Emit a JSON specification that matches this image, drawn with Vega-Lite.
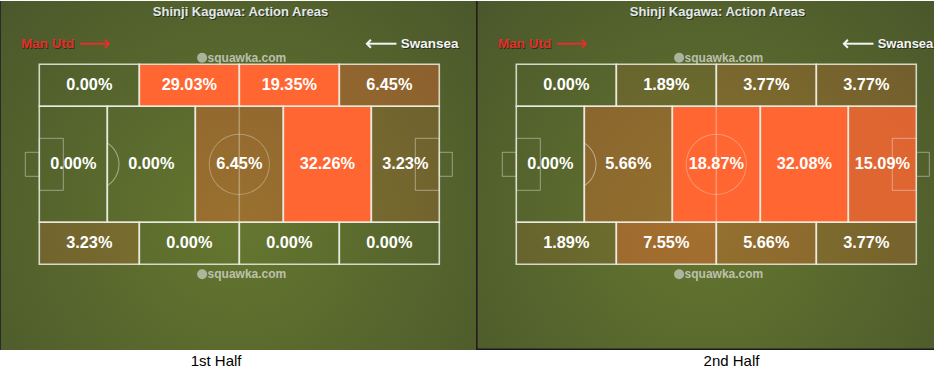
{
  "$schema": "https://vega.github.io/schema/vega-lite/v6.json",
  "padding": 0,
  "background": "white",
  "spacing": 0,
  "bounds": "flush",
  "config": {"view": {"stroke": null}, "text": {"font": "Liberation Sans"}},
  "datasets": {
    "zones": [
      {"half": 1, "x0": 0, "x1": 25, "y0": 79, "y1": 100, "cx": 12.5, "cy": 89.5, "v": 0.0},
      {"half": 1, "x0": 25, "x1": 50, "y0": 79, "y1": 100, "cx": 37.5, "cy": 89.5, "v": 0.2903},
      {"half": 1, "x0": 50, "x1": 75, "y0": 79, "y1": 100, "cx": 62.5, "cy": 89.5, "v": 0.1935},
      {"half": 1, "x0": 75, "x1": 100, "y0": 79, "y1": 100, "cx": 87.5, "cy": 89.5, "v": 0.0645},
      {"half": 1, "x0": 0, "x1": 17, "y0": 21, "y1": 79, "cx": 8.5, "cy": 50, "v": 0.0},
      {"half": 1, "x0": 17, "x1": 39, "y0": 21, "y1": 79, "cx": 28, "cy": 50, "v": 0.0},
      {"half": 1, "x0": 39, "x1": 61, "y0": 21, "y1": 79, "cx": 50, "cy": 50, "v": 0.0645},
      {"half": 1, "x0": 61, "x1": 83, "y0": 21, "y1": 79, "cx": 72, "cy": 50, "v": 0.3226},
      {"half": 1, "x0": 83, "x1": 100, "y0": 21, "y1": 79, "cx": 91.5, "cy": 50, "v": 0.0323},
      {"half": 1, "x0": 0, "x1": 25, "y0": 0, "y1": 21, "cx": 12.5, "cy": 10.5, "v": 0.0323},
      {"half": 1, "x0": 25, "x1": 50, "y0": 0, "y1": 21, "cx": 37.5, "cy": 10.5, "v": 0.0},
      {"half": 1, "x0": 50, "x1": 75, "y0": 0, "y1": 21, "cx": 62.5, "cy": 10.5, "v": 0.0},
      {"half": 1, "x0": 75, "x1": 100, "y0": 0, "y1": 21, "cx": 87.5, "cy": 10.5, "v": 0.0},
      {"half": 2, "x0": 0, "x1": 25, "y0": 79, "y1": 100, "cx": 12.5, "cy": 89.5, "v": 0.0},
      {"half": 2, "x0": 25, "x1": 50, "y0": 79, "y1": 100, "cx": 37.5, "cy": 89.5, "v": 0.0189},
      {"half": 2, "x0": 50, "x1": 75, "y0": 79, "y1": 100, "cx": 62.5, "cy": 89.5, "v": 0.0377},
      {"half": 2, "x0": 75, "x1": 100, "y0": 79, "y1": 100, "cx": 87.5, "cy": 89.5, "v": 0.0377},
      {"half": 2, "x0": 0, "x1": 17, "y0": 21, "y1": 79, "cx": 8.5, "cy": 50, "v": 0.0},
      {"half": 2, "x0": 17, "x1": 39, "y0": 21, "y1": 79, "cx": 28, "cy": 50, "v": 0.0566},
      {"half": 2, "x0": 39, "x1": 61, "y0": 21, "y1": 79, "cx": 50, "cy": 50, "v": 0.1887},
      {"half": 2, "x0": 61, "x1": 83, "y0": 21, "y1": 79, "cx": 72, "cy": 50, "v": 0.3208},
      {"half": 2, "x0": 83, "x1": 100, "y0": 21, "y1": 79, "cx": 91.5, "cy": 50, "v": 0.1509},
      {"half": 2, "x0": 0, "x1": 25, "y0": 0, "y1": 21, "cx": 12.5, "cy": 10.5, "v": 0.0189},
      {"half": 2, "x0": 25, "x1": 50, "y0": 0, "y1": 21, "cx": 37.5, "cy": 10.5, "v": 0.0755},
      {"half": 2, "x0": 50, "x1": 75, "y0": 0, "y1": 21, "cx": 62.5, "cy": 10.5, "v": 0.0566},
      {"half": 2, "x0": 75, "x1": 100, "y0": 0, "y1": 21, "cx": 87.5, "cy": 10.5, "v": 0.0377}
    ],
    "boxes": [
      {"x0": 0, "x1": 6, "y0": 37, "y1": 63},
      {"x0": -3.5, "x1": 0, "y0": 44, "y1": 56},
      {"x0": 94, "x1": 100, "y0": 37, "y1": 63},
      {"x0": 100, "x1": 103.25, "y0": 44, "y1": 56}
    ]
  },
  "hconcat": [
    {
      "width": 476,
      "height": 349,
      "layer": [
        {
          "data": {"values": [{}]},
          "mark": {"type": "rect", "fill": {"gradient": "radial", "x1": 0.5, "y1": 0.6, "x2": 0.5, "y2": 0.6, "r1": 0, "r2": 0.78, "stops": [{"offset": 0, "color": "#65772f"}, {"offset": 1, "color": "#47532b"}]}},
          "encoding": {
            "x": {"datum": -9.825, "type": "quantitative", "scale": {"domain": [-9.825, 109.175], "nice": false, "zero": false}, "axis": null},
            "x2": {"datum": 109.175},
            "y": {"datum": -42.85, "type": "quantitative", "scale": {"domain": [-42.85, 131.65], "nice": false, "zero": false}, "axis": null},
            "y2": {"datum": 131.65}
          }
        },
        {
          "data": {"name": "zones"},
          "transform": [{"filter": "datum.half == 1"}],
          "mark": {"type": "rect", "fill": "#ff6632"},
          "encoding": {
            "x": {"field": "x0", "type": "quantitative"}, "x2": {"field": "x1"},
            "y": {"field": "y0", "type": "quantitative"}, "y2": {"field": "y1"},
            "opacity": {"field": "v", "type": "quantitative", "scale": {"domain": [0, 0.186], "range": [0, 1], "clamp": true}, "legend": null}
          }
        },
        {
          "data": {"name": "boxes"},
          "mark": {"type": "rect", "fill": "white", "fillOpacity": 0, "stroke": "#f0f0e8", "strokeOpacity": 0.45, "strokeWidth": 1},
          "encoding": {
            "x": {"field": "x0", "type": "quantitative"}, "x2": {"field": "x1"},
            "y": {"field": "y0", "type": "quantitative"}, "y2": {"field": "y1"}
          }
        },
        {
          "data": {"values": [{}]},
          "mark": {"type": "rule", "color": "#f0f0e8", "opacity": 0.35, "strokeWidth": 1.5},
          "encoding": {"x": {"datum": 50, "type": "quantitative"}, "y": {"datum": 21, "type": "quantitative"}, "y2": {"datum": 79}}
        },
        {
          "data": {"values": [{}]},
          "mark": {"type": "arc", "radius": 30.6, "radius2": 29.6, "theta": 0, "theta2": 6.2832, "fill": "#f0f0e8", "opacity": 0.35},
          "encoding": {"x": {"datum": 50, "type": "quantitative"}, "y": {"datum": 50, "type": "quantitative"}}
        },
        {
          "data": {"values": [{}]},
          "mark": {"type": "arc", "radius": 25.8, "radius2": 24.8, "theta": 0.553, "theta2": 2.589, "fill": "#f0f0e8", "opacity": 0.5},
          "encoding": {"x": {"datum": 13.6, "type": "quantitative"}, "y": {"datum": 50, "type": "quantitative"}}
        },
        {
          "data": {"name": "zones"},
          "transform": [{"filter": "datum.half == 1"}],
          "mark": {"type": "rect", "fill": "white", "fillOpacity": 0, "stroke": "#ecece2", "strokeOpacity": 0.85, "strokeWidth": 1.6},
          "encoding": {
            "x": {"field": "x0", "type": "quantitative"}, "x2": {"field": "x1"},
            "y": {"field": "y0", "type": "quantitative"}, "y2": {"field": "y1"}
          }
        },
        {
          "data": {"values": [{"wy": 103.3}, {"wy": -5}]},
          "mark": {"type": "point", "shape": "circle", "filled": true, "size": 100, "color": "#c9ccc0", "opacity": 0.75},
          "encoding": {"x": {"datum": 40.7, "type": "quantitative"}, "y": {"field": "wy", "type": "quantitative"}}
        },
        {
          "data": {"values": [{"wy": 103.3}, {"wy": -5}]},
          "mark": {"type": "text", "text": "squawka.com", "font": "Liberation Sans", "fontWeight": "bold", "fontSize": 12, "color": "#d4d6cc", "opacity": 0.8},
          "encoding": {"x": {"datum": 51.9, "type": "quantitative"}, "y": {"field": "wy", "type": "quantitative"}}
        },
        {
          "data": {"values": [{}]},
          "mark": {"type": "text", "text": "Shinji Kagawa: Action Areas", "fontWeight": "bold", "fontSize": 13, "color": "#1a1e12", "dx": 1, "dy": 1, "opacity": 0.7},
          "encoding": {"x": {"datum": 50.3, "type": "quantitative"}, "y": {"datum": 126.4, "type": "quantitative"}}
        },
        {
          "data": {"values": [{}]},
          "mark": {"type": "text", "text": "Shinji Kagawa: Action Areas", "fontWeight": "bold", "fontSize": 13, "color": "#e2e7ea"},
          "encoding": {"x": {"datum": 50.3, "type": "quantitative"}, "y": {"datum": 126.4, "type": "quantitative"}}
        },
        {
          "data": {"values": [{}]},
          "mark": {"type": "text", "text": "Man Utd", "fontWeight": "bold", "fontSize": 13.5, "color": "#1a1e12", "dx": 1, "dy": 1, "opacity": 0.7},
          "encoding": {"x": {"datum": 2.1, "type": "quantitative"}, "y": {"datum": 110.3, "type": "quantitative"}}
        },
        {
          "data": {"values": [{}]},
          "mark": {"type": "text", "text": "Man Utd", "fontWeight": "bold", "fontSize": 13.5, "color": "#e2312a"},
          "encoding": {"x": {"datum": 2.1, "type": "quantitative"}, "y": {"datum": 110.3, "type": "quantitative"}}
        },
        {
          "data": {"values": [{}]},
          "mark": {"type": "rule", "color": "#e2312a", "strokeWidth": 2},
          "encoding": {"x": {"datum": 10.2, "type": "quantitative"}, "x2": {"datum": 17.3}, "y": {"datum": 110.3, "type": "quantitative"}}
        },
        {
          "data": {"values": [{}]},
          "mark": {"type": "point", "shape": "M-1,-1L0,0L-1,1", "filled": false, "size": 64, "stroke": "#e2312a", "strokeWidth": 2, "opacity": 1},
          "encoding": {"x": {"datum": 17.4, "type": "quantitative"}, "y": {"datum": 110.3, "type": "quantitative"}}
        },
        {
          "data": {"values": [{}]},
          "mark": {"type": "text", "text": "Swansea", "fontWeight": "bold", "fontSize": 13.5, "color": "#1a1e12", "dx": 1, "dy": 1, "opacity": 0.7},
          "encoding": {"x": {"datum": 97.6, "type": "quantitative"}, "y": {"datum": 110.3, "type": "quantitative"}}
        },
        {
          "data": {"values": [{}]},
          "mark": {"type": "text", "text": "Swansea", "fontWeight": "bold", "fontSize": 13.5, "color": "#f2f4f4"},
          "encoding": {"x": {"datum": 97.6, "type": "quantitative"}, "y": {"datum": 110.3, "type": "quantitative"}}
        },
        {
          "data": {"values": [{}]},
          "mark": {"type": "rule", "color": "#f2f4f4", "strokeWidth": 2},
          "encoding": {"x": {"datum": 82, "type": "quantitative"}, "x2": {"datum": 89.3}, "y": {"datum": 110.3, "type": "quantitative"}}
        },
        {
          "data": {"values": [{}]},
          "mark": {"type": "point", "shape": "M1,-1L0,0L1,1", "filled": false, "size": 64, "stroke": "#f2f4f4", "strokeWidth": 2, "opacity": 1},
          "encoding": {"x": {"datum": 81.9, "type": "quantitative"}, "y": {"datum": 110.3, "type": "quantitative"}}
        },
        {
          "data": {"name": "zones"},
          "transform": [{"filter": "datum.half == 1"}],
          "mark": {"type": "text", "fontWeight": "bold", "fontSize": 16.3, "color": "#ffffff"},
          "encoding": {
            "x": {"field": "cx", "type": "quantitative"},
            "y": {"field": "cy", "type": "quantitative"},
            "text": {"field": "v", "type": "quantitative", "format": ".2%"}
          }
        },
        {
          "data": {"values": [{}]},
          "mark": {"type": "text", "text": "1st Half", "fontSize": 15, "color": "#000000"},
          "encoding": {"x": {"datum": 44.2, "type": "quantitative"}, "y": {"datum": -48.4, "type": "quantitative"}}
        },
        {
          "data": {"values": [{}]},
          "mark": {"type": "rule", "color": "#2a2a2a", "strokeWidth": 1},
          "encoding": {"x": {"datum": -9.7, "type": "quantitative"}, "y": {"datum": -42.85, "type": "quantitative"}, "y2": {"datum": 131.65}}
        }
      ]
    },
    {
      "width": 458,
      "height": 349,
      "layer": [
        {
          "data": {"values": [{}]},
          "mark": {"type": "rect", "fill": {"gradient": "radial", "x1": 0.5, "y1": 0.6, "x2": 0.5, "y2": 0.6, "r1": 0, "r2": 0.78, "stops": [{"offset": 0, "color": "#65772f"}, {"offset": 1, "color": "#47532b"}]}},
          "encoding": {
            "x": {"datum": -10.075, "type": "quantitative", "scale": {"domain": [-10.075, 104.425], "nice": false, "zero": false}, "axis": null},
            "x2": {"datum": 104.425},
            "y": {"datum": -42.85, "type": "quantitative", "scale": {"domain": [-42.85, 131.65], "nice": false, "zero": false}, "axis": null},
            "y2": {"datum": 131.65}
          }
        },
        {
          "data": {"name": "zones"},
          "transform": [{"filter": "datum.half == 2"}],
          "mark": {"type": "rect", "fill": "#ff6632"},
          "encoding": {
            "x": {"field": "x0", "type": "quantitative"}, "x2": {"field": "x1"},
            "y": {"field": "y0", "type": "quantitative"}, "y2": {"field": "y1"},
            "opacity": {"field": "v", "type": "quantitative", "scale": {"domain": [0, 0.186], "range": [0, 1], "clamp": true}, "legend": null}
          }
        },
        {
          "data": {"name": "boxes"},
          "mark": {"type": "rect", "fill": "white", "fillOpacity": 0, "stroke": "#f0f0e8", "strokeOpacity": 0.45, "strokeWidth": 1},
          "encoding": {
            "x": {"field": "x0", "type": "quantitative"}, "x2": {"field": "x1"},
            "y": {"field": "y0", "type": "quantitative"}, "y2": {"field": "y1"}
          }
        },
        {
          "data": {"values": [{}]},
          "mark": {"type": "rule", "color": "#f0f0e8", "opacity": 0.35, "strokeWidth": 1.5},
          "encoding": {"x": {"datum": 50, "type": "quantitative"}, "y": {"datum": 21, "type": "quantitative"}, "y2": {"datum": 79}}
        },
        {
          "data": {"values": [{}]},
          "mark": {"type": "arc", "radius": 30.6, "radius2": 29.6, "theta": 0, "theta2": 6.2832, "fill": "#f0f0e8", "opacity": 0.35},
          "encoding": {"x": {"datum": 50, "type": "quantitative"}, "y": {"datum": 50, "type": "quantitative"}}
        },
        {
          "data": {"values": [{}]},
          "mark": {"type": "arc", "radius": 25.8, "radius2": 24.8, "theta": 0.553, "theta2": 2.589, "fill": "#f0f0e8", "opacity": 0.5},
          "encoding": {"x": {"datum": 13.6, "type": "quantitative"}, "y": {"datum": 50, "type": "quantitative"}}
        },
        {
          "data": {"name": "zones"},
          "transform": [{"filter": "datum.half == 2"}],
          "mark": {"type": "rect", "fill": "white", "fillOpacity": 0, "stroke": "#ecece2", "strokeOpacity": 0.85, "strokeWidth": 1.6},
          "encoding": {
            "x": {"field": "x0", "type": "quantitative"}, "x2": {"field": "x1"},
            "y": {"field": "y0", "type": "quantitative"}, "y2": {"field": "y1"}
          }
        },
        {
          "data": {"values": [{"wy": 103.3}, {"wy": -5}]},
          "mark": {"type": "point", "shape": "circle", "filled": true, "size": 100, "color": "#c9ccc0", "opacity": 0.75},
          "encoding": {"x": {"datum": 40.7, "type": "quantitative"}, "y": {"field": "wy", "type": "quantitative"}}
        },
        {
          "data": {"values": [{"wy": 103.3}, {"wy": -5}]},
          "mark": {"type": "text", "text": "squawka.com", "font": "Liberation Sans", "fontWeight": "bold", "fontSize": 12, "color": "#d4d6cc", "opacity": 0.8},
          "encoding": {"x": {"datum": 51.9, "type": "quantitative"}, "y": {"field": "wy", "type": "quantitative"}}
        },
        {
          "data": {"values": [{}]},
          "mark": {"type": "text", "text": "Shinji Kagawa: Action Areas", "fontWeight": "bold", "fontSize": 13, "color": "#1a1e12", "dx": 1, "dy": 1, "opacity": 0.7},
          "encoding": {"x": {"datum": 50.3, "type": "quantitative"}, "y": {"datum": 126.4, "type": "quantitative"}}
        },
        {
          "data": {"values": [{}]},
          "mark": {"type": "text", "text": "Shinji Kagawa: Action Areas", "fontWeight": "bold", "fontSize": 13, "color": "#e2e7ea"},
          "encoding": {"x": {"datum": 50.3, "type": "quantitative"}, "y": {"datum": 126.4, "type": "quantitative"}}
        },
        {
          "data": {"values": [{}]},
          "mark": {"type": "text", "text": "Man Utd", "fontWeight": "bold", "fontSize": 13.5, "color": "#1a1e12", "dx": 1, "dy": 1, "opacity": 0.7},
          "encoding": {"x": {"datum": 2.1, "type": "quantitative"}, "y": {"datum": 110.3, "type": "quantitative"}}
        },
        {
          "data": {"values": [{}]},
          "mark": {"type": "text", "text": "Man Utd", "fontWeight": "bold", "fontSize": 13.5, "color": "#e2312a"},
          "encoding": {"x": {"datum": 2.1, "type": "quantitative"}, "y": {"datum": 110.3, "type": "quantitative"}}
        },
        {
          "data": {"values": [{}]},
          "mark": {"type": "rule", "color": "#e2312a", "strokeWidth": 2},
          "encoding": {"x": {"datum": 10.2, "type": "quantitative"}, "x2": {"datum": 17.3}, "y": {"datum": 110.3, "type": "quantitative"}}
        },
        {
          "data": {"values": [{}]},
          "mark": {"type": "point", "shape": "M-1,-1L0,0L-1,1", "filled": false, "size": 64, "stroke": "#e2312a", "strokeWidth": 2, "opacity": 1},
          "encoding": {"x": {"datum": 17.4, "type": "quantitative"}, "y": {"datum": 110.3, "type": "quantitative"}}
        },
        {
          "data": {"values": [{}]},
          "mark": {"type": "text", "text": "Swansea", "fontWeight": "bold", "fontSize": 13, "color": "#1a1e12", "dx": 1, "dy": 1, "opacity": 0.7},
          "encoding": {"x": {"datum": 97.3, "type": "quantitative"}, "y": {"datum": 110.3, "type": "quantitative"}}
        },
        {
          "data": {"values": [{}]},
          "mark": {"type": "text", "text": "Swansea", "fontWeight": "bold", "fontSize": 13, "color": "#f2f4f4"},
          "encoding": {"x": {"datum": 97.3, "type": "quantitative"}, "y": {"datum": 110.3, "type": "quantitative"}}
        },
        {
          "data": {"values": [{}]},
          "mark": {"type": "rule", "color": "#f2f4f4", "strokeWidth": 2},
          "encoding": {"x": {"datum": 82, "type": "quantitative"}, "x2": {"datum": 89.3}, "y": {"datum": 110.3, "type": "quantitative"}}
        },
        {
          "data": {"values": [{}]},
          "mark": {"type": "point", "shape": "M1,-1L0,0L1,1", "filled": false, "size": 64, "stroke": "#f2f4f4", "strokeWidth": 2, "opacity": 1},
          "encoding": {"x": {"datum": 81.9, "type": "quantitative"}, "y": {"datum": 110.3, "type": "quantitative"}}
        },
        {
          "data": {"name": "zones"},
          "transform": [{"filter": "datum.half == 2"}],
          "mark": {"type": "text", "fontWeight": "bold", "fontSize": 16.3, "color": "#ffffff"},
          "encoding": {
            "x": {"field": "cx", "type": "quantitative"},
            "y": {"field": "cy", "type": "quantitative"},
            "text": {"field": "v", "type": "quantitative", "format": ".2%"}
          }
        },
        {
          "data": {"values": [{}]},
          "mark": {"type": "text", "text": "2nd Half", "fontSize": 15, "color": "#000000"},
          "encoding": {"x": {"datum": 53.8, "type": "quantitative"}, "y": {"datum": -48.4, "type": "quantitative"}}
        },
        {
          "data": {"values": [{}]},
          "mark": {"type": "rule", "color": "#241c1c", "strokeWidth": 1.6},
          "encoding": {"x": {"datum": -9.87, "type": "quantitative"}, "y": {"datum": -42.85, "type": "quantitative"}, "y2": {"datum": 131.65}}
        },
        {
          "data": {"values": [{}]},
          "mark": {"type": "rule", "color": "#1c1c1c", "strokeWidth": 1.6},
          "encoding": {"x": {"datum": -10.075, "type": "quantitative"}, "x2": {"datum": 104.425}, "y": {"datum": -42.45, "type": "quantitative"}}
        }
      ]
    }
  ]
}
